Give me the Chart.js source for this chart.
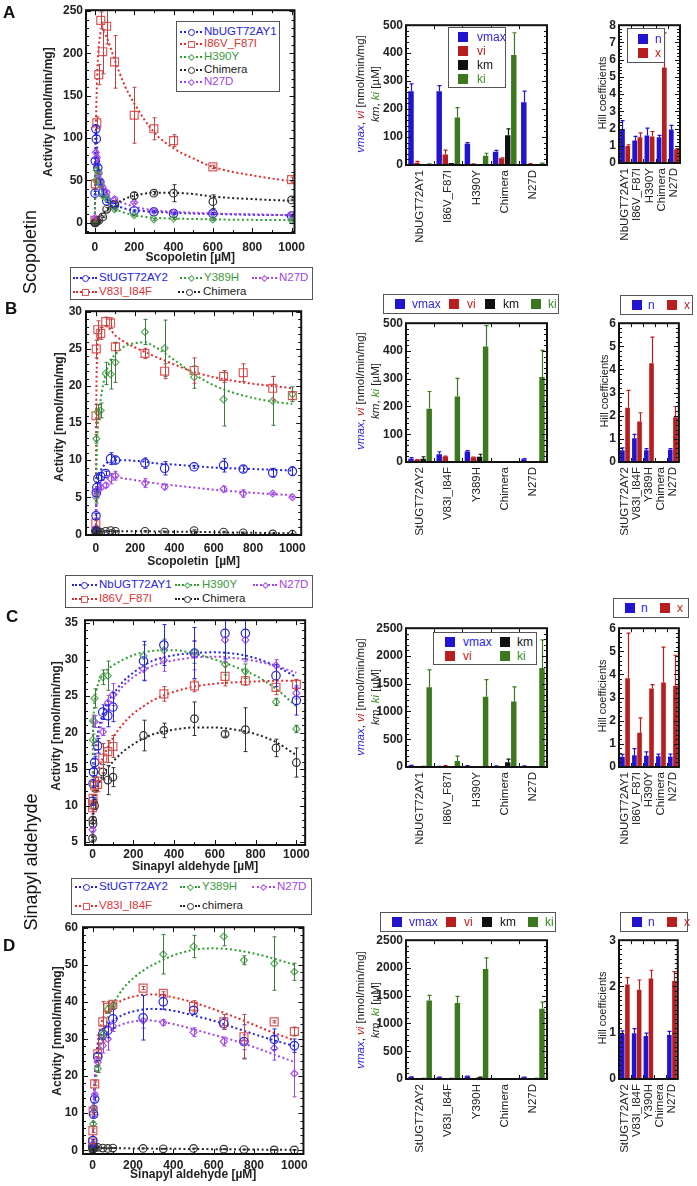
<!DOCTYPE html>
<html><head><meta charset="utf-8">
<script src="https://cdn.jsdelivr.net/npm/chart.js@4.4.1/dist/chart.umd.min.js"></script>
<style>
html,body{margin:0;padding:0;background:#fff;}
body{width:697px;height:1186px;position:relative;overflow:hidden;font-family:"Liberation Sans",Arial,sans-serif;}
canvas{position:absolute;}
.t{position:absolute;white-space:nowrap;}
.box{position:absolute;border:1px solid #555;background:#fff;box-sizing:border-box;}
</style></head><body>
<script>
// ===================== DATA =====================
// ---- Panel A : Scopoletin, NbUGT72AY1 family
const A_xTicks = [0, 200, 400, 600, 800, 1000];
const A_yTicks = [0, 50, 100, 150, 200, 250];
const A_NbUGT72AY1_x = [1, 2.5, 5, 7.5, 15, 25, 40, 60, 100, 200, 300, 400, 600, 1000];
const A_NbUGT72AY1_y = [35, 73, 111, 99, 65, 48, 36, 26, 21, 14, 13, 11, 11, 8];
const A_NbUGT72AY1_err = [2, 3, 4, 4, 3, 3, 3, 2, 2, 1, 1, 1, 1, 1];
const A_I86V_F87I_x = [0.5, 2.5, 10, 20, 30, 40, 60, 100, 200, 300, 400, 600, 1000];
const A_I86V_F87I_y = [3, 46, 118, 175, 239, 202, 232, 190, 127, 111, 97, 66, 51];
const A_I86V_F87I_err = [1, 5, 7, 12, 10, 26, 21, 31, 33, 13, 7, 2, 3];
const A_H390Y_x = [0.5, 5, 10, 20, 30, 40, 60, 100, 200, 300, 400, 600, 1000];
const A_H390Y_y = [1, 50, 62, 60, 45, 32, 28, 16, 9, 4, 5, 4, 3];
const A_H390Y_err = [0.5, 3, 3, 3, 3, 2, 2, 2, 1, 1, 1, 1, 1];
const A_Chimera_x = [0, 2.5, 5, 10, 20, 40, 60, 100, 200, 300, 400, 600, 1000];
const A_Chimera_y = [0, 0, 1, 2, 3, 7, 16, 22, 32, 35, 35, 25, 27];
const A_Chimera_err = [0.5, 0.5, 0.5, 0.5, 1, 1, 2, 3, 4, 2, 10, 8, 1];
const A_N27D_x = [1, 5, 10, 20, 30, 40, 60, 100, 200, 300, 400, 600, 1000];
const A_N27D_y = [6, 83, 77, 58, 48, 42, 36, 28, 24, 14, 12, 11, 9];
const A_N27D_err = [1, 3, 3, 3, 2, 2, 2, 2, 1, 1, 1, 1, 1];
const A_fit_x = [0, 2, 5, 10, 15, 20, 30, 40, 60, 100, 150, 200, 300, 400, 500, 600, 800, 1000];
const A_fit_NbUGT72AY1 = [0, 80, 110, 95, 75, 62, 48, 38, 30, 22, 17, 15, 13, 12, 11, 10.5, 9.5, 9];
const A_fit_I86V_F87I = [0, 45, 105, 161, 192, 208, 225, 226, 219, 193, 163, 141, 107, 88, 76, 66, 56, 49];
const A_fit_H390Y = [0, 35, 60, 65, 60, 52, 42, 34, 26, 17, 12, 9, 6, 5, 4.5, 4, 3.5, 3.3];
const A_fit_Chimera = [0, 0.3, 0.8, 2, 3.5, 5, 8, 10.5, 15, 22, 28, 32, 35.5, 35.5, 34, 31, 28, 26];
const A_fit_N27D = [0, 45, 78, 80, 70, 60, 49, 43, 35, 28, 23, 19, 15, 13, 12, 11, 10, 9];

// ---- shared substrate grid for B, C, D
const conc = [0, 1, 2.5, 5, 10, 25, 50, 75, 100, 250, 350, 500, 650, 750, 900, 1000];
const fitConc = [0, 1, 2.5, 5, 10, 25, 50, 75, 100, 150, 200, 250, 300, 400, 500, 600, 700, 800, 900, 1000];
const BCD_xTicks = [0, 200, 400, 600, 800, 1000];

// ---- Panel B : Scopoletin, StUGT72AY2 family
const B_yTicks = [0, 5, 10, 15, 20, 25, 30];
const B_StUGT72AY2 = [0.5, 2.5, 5.6, 6.3, 7.5, 7.8, 8.2, 10.2, 10.0, 9.6, 8.9, 9.1, 9.3, 8.8, 8.3, 8.5];
const B_StUGT72AY2_err = [0.2, 0.3, 0.5, 0.6, 0.5, 0.5, 0.3, 0.8, 0.4, 0.7, 0.9, 0.2, 0.9, 0.4, 0.6, 0.6];
const B_V83I_I84F = [1.5, 16.0, 25.0, null, 27.6, 27.1, 28.7, 28.5, 25.3, 24.4, 22.0, 22.1, 21.3, 21.8, 19.7, 18.7];
const B_V83I_I84F_err = [0.3, 1.5, 1.2, 0, 1.2, 0.8, 0.6, 0.7, 0.5, 0.7, 1.0, 1.7, 0.8, 1.2, 1.6, 0.5];
const B_Y389H = [null, 5.0, 12.9, null, 16.5, 16.7, 21.7, 21.6, 23.2, 27.3, 25.1, 21.2, 18.2, null, 18.0, 18.9];
const B_Y389H_err = [0, 0.8, 0.6, 0, 1.0, 1.0, 1.5, 2.0, 2.7, 1.7, 3.8, 1.5, 3.6, 0, 3.3, 1.0];
const B_N27D = [null, null, 5.3, 5.8, 6.0, 6.3, 6.6, 7.5, 7.9, 6.9, 6.4, null, 6.1, 5.5, 5.5, 5.0];
const B_N27D_err = [0, 0, 0.4, 0.4, 0.3, 0.3, 0.3, 0.7, 0.6, 0.6, 0.3, 0, 0.4, 0.5, 0.1, 0.1];
const B_Chimera = [0.3, 0.4, 0.4, 0.4, 0.4, 0.3, 0.4, 0.5, 0.4, 0.4, 0.3, 0.5, 0.3, 0.2, 0.05, 0.0];
const B_Chimera_err = [0.1, 0.1, 0.1, 0.1, 0.1, 0.1, 0.1, 0.1, 0.1, 0.1, 0.1, 0.1, 0.1, 0.1, 0.1, 0.1];
const B_fit_StUGT72AY2 = [0, 1.5, 3.5, 5.5, 7.2, 8.6, 9.5, 9.9, 10.0, 10.0, 9.9, 9.8, 9.6, 9.4, 9.2, 9.0, 8.9, 8.8, 8.7, 8.6];
const B_fit_V83I_I84F = [0, 10, 18, 23, 26.3, 27.8, 28.1, 27.6, 26.8, 25.9, 25.2, 24.6, 24.0, 22.9, 21.9, 21.2, 20.7, 20.3, 20.0, 19.7];
const B_fit_Y389H = [0, 3, 7, 11, 14.5, 18.3, 21.6, 23.4, 24.3, 25.4, 25.8, 25.9, 25.3, 23.5, 21.6, 20.1, 19.1, 18.4, 17.9, 17.6];
const B_fit_N27D = [0, 1.5, 3, 4.5, 5.8, 6.9, 7.5, 7.7, 7.7, 7.5, 7.3, 7.1, 6.9, 6.6, 6.3, 6.0, 5.8, 5.6, 5.4, 5.3];
const B_fit_Chimera = [0, 0.2, 0.3, 0.35, 0.4, 0.4, 0.4, 0.4, 0.4, 0.4, 0.4, 0.4, 0.38, 0.35, 0.32, 0.28, 0.24, 0.2, 0.16, 0.12];

// ---- Panel C : Sinapyl aldehyde, NbUGT72AY1 family
const C_yTicks = [5, 10, 15, 20, 25, 30, 35];
const C_NbUGT72AY1 = [null, 10.6, 13.0, 14.6, 15.9, 18.2, 22.8, 22.3, 23.5, 29.8, 32.0, 30.9, 33.6, 33.6, 27.8, 24.4];
const C_NbUGT72AY1_err = [0, 0.5, 0.5, 0.5, 0.8, 1.0, 1.0, 1.5, 2.0, 2.7, 2.8, 3.5, 3.5, 3.5, 1.5, 2.0];
const C_I86V_F87I = [9.7, 10.1, 11.0, null, 12.8, 12.9, 16.5, 17.4, 18.1, null, 25.3, 26.4, 27.7, 27.1, 26.2, 26.6];
const C_I86V_F87I_err = [0.5, 0.5, 0.5, 0, 1.0, 1.0, 2.0, 1.5, 1.5, 0, 1.0, 0.8, 1.3, 0.6, 1.0, 0.7];
const C_H390Y = [null, 19.0, 21.6, null, 24.7, null, 27.6, 27.8, null, 30.5, 31.3, 31.0, 29.4, 28.4, 24.2, 20.5];
const C_H390Y_err = [0, 0.8, 0.8, 0, 1.3, 0, 1.0, 2.0, 0, 1.5, 1.5, 1.5, 1.5, 1.0, 0.5, 0.5];
const C_N27D = [6.7, null, null, null, 21.5, null, 20.1, 24.1, 25.2, 28.7, 29.9, 30.6, 32.7, 32.7, 29.2, 25.4];
const C_N27D_err = [0.3, 0, 0, 0, 0.8, 0, 0.5, 1.0, 1.5, 1.5, 1.5, 2.0, 3.0, 3.0, 0.8, 0.8];
const C_Chimera = [5.5, 8.0, 7.5, null, 10.0, null, 14.6, 13.5, 13.9, 19.6, 20.3, 21.9, 19.8, 20.4, 17.9, 15.9];
const C_Chimera_err = [0.2, 0.5, 0.5, 0, 0.5, 0, 1.0, 2.0, 1.3, 2.1, 1.0, 2.3, 0.3, 3.0, 1.2, 2.0];
const C_fit_NbUGT72AY1 = [3, 8, 11.5, 14, 16.5, 19.8, 22.6, 24.2, 25.2, 27.0, 28.2, 29.2, 29.9, 30.6, 30.9, 31.0, 30.8, 30.2, 29.1, 27.6];
const C_fit_I86V_F87I = [5, 8, 9.8, 11.2, 12.6, 14.5, 16.5, 18, 19.3, 21.2, 22.6, 23.6, 24.5, 25.6, 26.3, 26.7, 26.9, 27.0, 27.1, 27.1];
const C_fit_H390Y = [10, 17, 20, 22.3, 24.3, 26.5, 27.9, 28.7, 29.2, 30.0, 30.6, 31.0, 31.2, 31.3, 30.8, 30.0, 29.0, 27.8, 26.0, 23.6];
const C_fit_N27D = [3, 7, 10.5, 13, 15.5, 18.8, 21.8, 23.4, 24.5, 26.4, 27.6, 28.5, 29.2, 29.9, 30.3, 30.4, 30.2, 29.8, 29.1, 28.2];
const C_fit_Chimera = [5, 6.5, 7.8, 9, 10.5, 12.4, 14.2, 15.2, 16, 17.4, 18.4, 19.2, 19.8, 20.4, 20.7, 20.7, 20.4, 19.8, 18.7, 16.9];

// ---- Panel D : Sinapyl aldehyde, StUGT72AY2 family
const D_yTicks = [0, 10, 20, 30, 40, 50, 60];
const D_StUGT72AY2 = [1.0, 2.6, null, 9.7, 13.8, 25.2, 31.3, 32.3, 35.4, 35.7, 40.0, 37.7, 34.1, 29.3, 29.9, 28.2];
const D_StUGT72AY2_err = [0.2, 0.3, 0, 0.5, 0.5, 1.0, 1.5, 2.0, 2.5, 6.0, 2.0, 1.0, 1.5, 4.5, 2.8, 1.8];
const D_V83I_I84F = [2.2, 5.3, 10.6, null, 17.9, 26.0, 34.6, 38.5, 39.3, 43.7, 42.3, 38.8, 34.6, 30.6, 34.6, 32.0];
const D_V83I_I84F_err = [0.3, 0.5, 0.5, 0, 0.5, 5.0, 5.5, 1.5, 0.5, 0.4, 0.4, 1.5, 2.0, 6.0, 0.3, 1.2];
const D_Y389H = [null, null, 7.1, 11.5, null, 22.0, 31.2, 38.0, 39.0, null, 52.8, 54.9, 57.6, 51.2, 50.3, 48.1];
const D_Y389H_err = [0, 0, 0.5, 0.5, 0, 1.0, 1.0, 1.0, 1.0, 0, 5.3, 3.0, 2.5, 1.2, 7.2, 2.3];
const D_N27D = [1.5, null, null, 11.5, 15.0, 23.8, 28.2, 30.0, 33.5, 34.9, 34.4, 31.8, 29.3, 29.1, 27.5, 20.7];
const D_N27D_err = [0.2, 0, 0, 0.5, 0.5, 1.0, 2.0, 3.0, 1.5, 2.0, 0.8, 1.2, 1.2, 2.0, 3.2, 6.3];
const D_chimera = [0.2, 0.4, 0.5, 0.8, 0.8, 0.8, 0.6, 0.5, 0.6, 0.5, 0.4, 0.5, 0.3, 0.2, 0.1, 0.1];
const D_chimera_err = [0.1, 0.1, 0.1, 0.1, 0.1, 0.1, 0.1, 0.1, 0.1, 0.1, 0.1, 0.1, 0.1, 0.1, 0.1, 0.1];
const D_fit_StUGT72AY2 = [0, 3, 7, 12, 18.5, 27.5, 32, 33.8, 34.9, 36.5, 37.4, 37.9, 38.1, 37.6, 36.3, 34.9, 33.1, 31.3, 29.6, 28.1];
const D_fit_V83I_I84F = [0, 3, 7, 12, 19, 29, 35.5, 37.5, 38.8, 40.5, 41.4, 41.9, 42, 41.2, 39.8, 38, 36, 33.8, 31.6, 29.6];
const D_fit_Y389H = [0, 2.5, 5.5, 9.5, 15, 23, 30.5, 35.5, 39, 43.5, 46.3, 48.4, 50, 52.5, 54, 54.4, 54, 53, 51.6, 50.0];
const D_fit_N27D = [0, 3, 7, 12, 18, 26, 30.2, 31.8, 32.7, 34, 34.7, 35, 34.9, 34, 32.6, 31.1, 29.6, 27.8, 25.8, 23.8];
const D_fit_chimera = [0, 0.2, 0.4, 0.5, 0.6, 0.6, 0.6, 0.6, 0.6, 0.55, 0.5, 0.5, 0.45, 0.4, 0.35, 0.3, 0.25, 0.2, 0.15, 0.1];

// ---- Kinetic parameter bars
const catsA = ['NbUGT72AY1', 'I86V_F87I', 'H390Y', 'Chimera', 'N27D'];
const catsB = ['StUGT72AY2', 'V83I_I84F', 'Y389H', 'Chimera', 'N27D'];
const catsC = ['NbUGT72AY1', 'I86V_F87I', 'H390Y', 'Chimera', 'N27D'];
const catsD = ['StUGT72AY2', 'V83I_I84F', 'Y390H', 'Chimera', 'N27D'];
const kinTicks500 = [0, 100, 200, 300, 400, 500];
const kinTicks2500 = [0, 500, 1000, 1500, 2000, 2500];
const hillTicks8 = [0, 1, 2, 3, 4, 5, 6, 7, 8];
const hillTicks6 = [0, 1, 2, 3, 4, 5, 6];
const hillTicks3 = [0, 1, 2, 3];

const A_vmax = [264, 264, 76, 47, 224];   const A_vmax_err = [26, 20, 4, 5, 40];
const A_vi = [8, 38, 3, 24, 4];           const A_vi_err = [5, 15, 1, 2, 1];
const A_km = [2, 7, 1, 106, 1];           const A_km_err = [0, 0, 0, 23, 0];
const A_ki = [3, 170, 33, 393, 5];        const A_ki_err = [1, 35, 9, 80, 2];
const A_n = [1.98, 1.31, 1.6, 1.49, 1.94];  const A_n_err = [0.48, 0.23, 0.42, 0.11, 0.25];
const A_x = [0.99, 1.5, 1.54, 5.54, 0.8];   const A_x_err = [0.07, 0.25, 0.29, 2.02, 0.04];

const B_vmax = [12, 28, 38, 0, 10];       const B_vmax_err = [4, 9, 3, 0, 2];
const B_vi = [8, 20, 17, 0, 4];           const B_vi_err = [1, 1, 1, 0, 0];
const B_km = [12, 0, 19, 0, 4];           const B_km_err = [7, 0, 9, 0, 0];
const B_ki = [192, 236, 416, 0, 306];     const B_ki_err = [62, 65, 75, 0, 96];
const B_n = [0.51, 1.03, 0.51, 0, 0.53];  const B_n_err = [0.1, 0.16, 0.07, 0, 0.05];
const B_x = [2.35, 1.75, 4.27, 0, 1.93];  const B_x_err = [0.75, 0.38, 1.13, 0, 0.47];

const C_vmax = [25, 8, 20, 18, 18];       const C_vmax_err = [5, 2, 3, 3, 3];
const C_vi = [6, 20, 5, 5, 4];            const C_vi_err = [2, 4, 1, 1, 1];
const C_km = [10, 2, 3, 85, 5];           const C_km_err = [2, 0, 0, 57, 1];
const C_ki = [1436, 108, 1264, 1180, 1785]; const C_ki_err = [314, 88, 310, 262, 503];
const C_n = [0.44, 0.51, 0.49, 0.47, 0.45]; const C_n_err = [0.11, 0.28, 0.16, 0.09, 0.11];
const C_x = [3.84, 1.48, 3.39, 3.65, 3.51]; const C_x_err = [1.95, 0.64, 0.17, 1.53, 1.32];

const D_vmax = [35, 30, 50, 0, 30];       const D_vmax_err = [3, 3, 4, 0, 3];
const D_vi = [5, 5, 5, 0, 5];             const D_vi_err = [0, 0, 0, 0, 0];
const D_km = [10, 8, 30, 0, 10];          const D_km_err = [2, 2, 4, 0, 2];
const D_ki = [1413, 1371, 1981, 0, 1264]; const D_ki_err = [94, 118, 200, 0, 119];
const D_n = [0.97, 0.99, 0.93, 0, 0.95];  const D_n_err = [0.07, 0.1, 0.06, 0, 0.08];
const D_x = [2.04, 1.93, 2.17, 0, 2.12];  const D_x_err = [0.15, 0.21, 0.18, 0, 0.2];

// ===================== STYLE =====================
const FONT = '"Liberation Sans", Arial, sans-serif';
Chart.defaults.font.family = FONT;
const COL = {
  blue:   {line: '#2525dc', mk: '#2525dc', err: '#2525dc', txt: '#2525dc', style: 'circle', r: 4.2},
  red:    {line: '#e02a2a', mk: '#e05858', err: '#b84444', txt: '#e03434', style: 'rect', r: 5.6},
  green:  {line: '#2f9e2f', mk: '#5aab5a', err: '#3e7a3e', txt: '#3a9a3a', style: 'rectRot', r: 3.5},
  purple: {line: '#a046e6', mk: '#a855e8', err: '#a046e6', txt: '#a046e6', style: 'rectRot', r: 3.5},
  black:  {line: '#222222', mk: '#333333', err: '#333333', txt: '#222222', style: 'circle', r: 3.8}
};
const BAR = {vmax: '#2114d0', vi: '#b81e1e', km: '#111111', ki: '#3c781e'};
const BARTXT = {vmax: '#2a1ee0', vi: '#c02020', km: '#111111', ki: '#3c8a1e'};

// ===================== PLUGINS =====================
const framePlugin = {
  id: 'frame',
  afterDraw(chart, args, o) {
    if (!o || !o.on) return;
    const {ctx, chartArea: a} = chart;
    const xs = chart.scales.x, ys = chart.scales.y;
    ctx.save();
    ctx.strokeStyle = '#111'; ctx.lineWidth = 1;
    ctx.beginPath();
    const k0 = Math.ceil(ys.min / o.yMinor - 1e-9), k1 = Math.floor(ys.max / o.yMinor + 1e-9);
    for (let k = k0; k <= k1; k++) {
      const v = k * o.yMinor;
      const major = Math.abs(v / o.yMajor - Math.round(v / o.yMajor)) < 1e-6;
      const len = major ? 5 : 3;
      const p = Math.round(ys.getPixelForValue(v)) + 0.5;
      ctx.moveTo(a.left, p); ctx.lineTo(a.left + len, p);
      ctx.moveTo(a.right, p); ctx.lineTo(a.right - len, p);
    }
    if (o.xMinor) {
      const j0 = Math.ceil(xs.min / o.xMinor - 1e-9), j1 = Math.floor(xs.max / o.xMinor + 1e-9);
      for (let j = j0; j <= j1; j++) {
        const v = j * o.xMinor;
        const major = Math.abs(v / o.xMajor - Math.round(v / o.xMajor)) < 1e-6;
        const len = major ? 5 : 3;
        const p = Math.round(xs.getPixelForValue(v)) + 0.5;
        ctx.moveTo(p, a.bottom); ctx.lineTo(p, a.bottom - len);
        ctx.moveTo(p, a.top); ctx.lineTo(p, a.top + len);
      }
    }
    if (o.cat) {
      const w = (a.right - a.left) / o.cat;
      for (let i = 1; i < o.cat; i++) {
        const p = Math.round(a.left + i * w) + 0.5;
        ctx.moveTo(p, a.bottom); ctx.lineTo(p, a.bottom - 4);
        ctx.moveTo(p, a.top); ctx.lineTo(p, a.top + 4);
      }
    }
    ctx.stroke();
    ctx.lineWidth = 2;
    ctx.strokeRect(a.left, a.top, a.right - a.left, a.bottom - a.top);
    ctx.restore();
  }
};
const errPlugin = {
  id: 'errbars',
  afterDatasetsDraw(chart) {
    const ctx = chart.ctx, a = chart.chartArea;
    ctx.save();
    ctx.beginPath(); ctx.rect(a.left, a.top - 1, a.right - a.left, a.bottom - a.top + 2); ctx.clip();
    chart.data.datasets.forEach((ds, di) => {
      if (!ds.errors) return;
      const meta = chart.getDatasetMeta(di);
      const ys = chart.scales[meta.yAxisID];
      ctx.strokeStyle = ds.errColor; ctx.lineWidth = ds.errWidth || 1;
      meta.data.forEach((el, i) => {
        const e = ds.errors[i];
        if (!e) return;
        const raw = ds.data[i];
        const v = (raw && typeof raw === 'object') ? raw.y : raw;
        if (v == null) return;
        const x = Math.round(el.x) + 0.5;
        const yt = ys.getPixelForValue(v + e);
        const yb = ds.upOnly ? ys.getPixelForValue(v) : ys.getPixelForValue(v - e);
        const cw = ds.capW || 2;
        ctx.beginPath();
        ctx.moveTo(x, yt); ctx.lineTo(x, yb);
        ctx.moveTo(x - cw, yt); ctx.lineTo(x + cw, yt);
        if (!ds.upOnly) { ctx.moveTo(x - cw, yb); ctx.lineTo(x + cw, yb); }
        ctx.stroke();
      });
    });
    ctx.restore();
  }
};
Chart.register(framePlugin, errPlugin);

// ===================== HELPERS =====================
function mkCanvas(p) {
  const cv = document.createElement('canvas');
  cv.width = p.cw; cv.height = p.ch;
  cv.style.left = p.cx + 'px'; cv.style.top = p.cy + 'px';
  cv.style.width = p.cw + 'px'; cv.style.height = p.ch + 'px';
  document.body.appendChild(cv);
  return cv;
}
function txt(x, y, html, o) {
  o = o || {};
  const size = o.size || 11;
  const d = document.createElement('div');
  d.className = 't';
  d.innerHTML = html;
  d.style.font = (o.style || 'normal') + ' ' + (o.weight || 'normal') + ' ' + size + 'px ' + FONT;
  d.style.lineHeight = size + 'px';
  d.style.color = o.color || '#222';
  d.style.left = x + 'px';
  d.style.top = (y - size / 2) + 'px';
  document.body.appendChild(d);
  return d;
}
function rotText(cx, cy, html, o) {
  o = o || {};
  const size = o.size || 11;
  const w = o.w || 200, h = o.h || size + 4;
  const d = document.createElement('div');
  d.className = 't';
  d.innerHTML = html;
  d.style.font = (o.weight || 'normal') + ' ' + size + 'px ' + FONT;
  d.style.lineHeight = (o.lh || size + 2) + 'px';
  d.style.color = o.color || '#222';
  d.style.width = w + 'px'; d.style.height = h + 'px';
  d.style.textAlign = 'center';
  d.style.left = (cx - w / 2) + 'px';
  d.style.top = (cy - h / 2) + 'px';
  d.style.transform = 'rotate(-90deg)';
  d.style.display = 'flex'; d.style.flexDirection = 'column'; d.style.justifyContent = 'center';
  document.body.appendChild(d);
}
function box(x1, y1, x2, y2) {
  const d = document.createElement('div');
  d.className = 'box';
  d.style.left = x1 + 'px'; d.style.top = y1 + 'px';
  d.style.width = (x2 - x1) + 'px'; d.style.height = (y2 - y1) + 'px';
  document.body.appendChild(d);
}
function sq(x, y, color, s) {
  s = s || 10;
  const d = document.createElement('div');
  d.style.cssText = 'position:absolute;left:' + x + 'px;top:' + (y - s / 2) + 'px;width:' + s + 'px;height:' + s + 'px;background:' + color + ';';
  document.body.appendChild(d);
}
function lsample(x1, x2, y, c) {
  const d = document.createElement('div');
  d.style.cssText = 'position:absolute;left:' + x1 + 'px;top:' + (y - 1) + 'px;width:' + (x2 - x1) + 'px;height:0;border-top:2px dotted ' + c.line + ';';
  document.body.appendChild(d);
  const m = document.createElement('div');
  const s = c.style === 'rectRot' ? 5 : 7;
  let css = 'position:absolute;box-sizing:border-box;left:' + ((x1 + x2) / 2 - s / 2) + 'px;top:' + (y - s / 2) + 'px;width:' + s + 'px;height:' + s + 'px;border:1.2px solid ' + c.mk + ';background:#fff;';
  if (c.style === 'circle') css += 'border-radius:50%;';
  if (c.style === 'rectRot') css += 'transform:rotate(45deg);';
  m.style.cssText = css;
  document.body.appendChild(m);
}
function legendItem(x1, x2, tx, y, c, label) {
  lsample(x1, x2, y, c);
  txt(tx, y, label, {size: 11.5, color: c.txt});
}
const plainNum = v => String(v);

function lineChart(p, spec) {
  const cv = mkCanvas(p);
  const datasets = [];
  spec.series.forEach(s => {
    datasets.push({
      data: spec.fitX.map((x, i) => ({x: x, y: s.fit[i]})),
      showLine: true, borderColor: s.c.line, borderWidth: 2, borderDash: [2, 2.6],
      pointRadius: 0, fill: false, cubicInterpolationMode: 'monotone', order: 2
    });
  });
  spec.series.forEach(s => {
    const pts = [], errs = [];
    s.x.forEach((x, i) => { if (s.y[i] != null) { pts.push({x: x, y: s.y[i]}); errs.push(s.err ? s.err[i] : 0); } });
    datasets.push({
      data: pts, errors: errs, errColor: s.c.err, capW: 2,
      showLine: false, pointStyle: s.c.style, pointRadius: s.c.r, borderColor: s.c.mk,
      backgroundColor: 'rgba(255,255,255,0)', borderWidth: 1.2, order: 1
    });
  });
  const tickFont = {size: 12, weight: 'bold', family: FONT};
  new Chart(cv, {
    type: 'scatter',
    data: {datasets: datasets},
    options: {
      responsive: false, animation: false, events: [], devicePixelRatio: 1,
      layout: {padding: {left: 0, top: p.T - p.cy, right: p.cx + p.cw - p.R, bottom: 0}},
      plugins: {legend: {display: false}, tooltip: {enabled: false},
        frame: {on: true, yMajor: spec.yMajor, yMinor: spec.yMinor, xMajor: 200, xMinor: spec.xMinor}},
      scales: {
        x: {type: 'linear', min: spec.xMin, max: spec.xMax,
          afterBuildTicks: sc => { sc.ticks = spec.xTicks.map(v => ({value: v})); },
          afterFit: sc => { sc.height = p.cy + p.ch - p.B; },
          grid: {display: false, drawTicks: false}, border: {display: false},
          ticks: {font: tickFont, color: '#222', padding: spec.xPad, maxRotation: 0, autoSkip: false, callback: plainNum},
          title: {display: true, text: spec.xTitle, font: {size: 12, weight: 'bold', family: FONT}, color: '#222', padding: {top: 0, bottom: spec.xTitlePad}}},
        y: {type: 'linear', min: spec.yMin, max: spec.yMax,
          afterBuildTicks: sc => { sc.ticks = spec.yTicks.map(v => ({value: v})); },
          afterFit: sc => { sc.width = p.L - p.cx; },
          grid: {display: false, drawTicks: false}, border: {display: false},
          ticks: {font: tickFont, color: '#222', padding: spec.yPad, autoSkip: false, callback: plainNum}}
      }
    }
  });
  rotText(spec.yTitleX, spec.yTitleY, 'Activity [nmol/min/mg]', {size: 12, weight: 'bold', w: 170, h: 16});
}

function barChart(p, spec) {
  const cv = mkCanvas(p);
  const datasets = spec.sets.map(s => ({
    data: s.data, errors: s.err, errColor: s.color, upOnly: true, capW: 2, errWidth: 1.2,
    backgroundColor: s.color, borderWidth: 0,
    categoryPercentage: spec.cp, barPercentage: spec.bp
  }));
  new Chart(cv, {
    type: 'bar',
    data: {labels: spec.labels, datasets: datasets},
    options: {
      responsive: false, animation: false, events: [], devicePixelRatio: 1,
      layout: {padding: {left: 0, top: p.T - p.cy, right: p.cx + p.cw - p.R, bottom: 0}},
      plugins: {legend: {display: false}, tooltip: {enabled: false},
        frame: {on: true, yMajor: spec.yMajor, yMinor: spec.yMinor, cat: spec.labels.length}},
      scales: {
        x: {type: 'category', grid: {display: false, drawTicks: false}, border: {display: false},
          afterFit: sc => { sc.height = p.cy + p.ch - p.B; },
          ticks: {autoSkip: false, minRotation: 90, maxRotation: 90, font: {size: 11.5, family: FONT}, color: '#222', padding: 5}},
        y: {type: 'linear', min: spec.yMin, max: spec.yMax,
          afterBuildTicks: sc => { sc.ticks = spec.yTicks.map(v => ({value: v})); },
          afterFit: sc => { sc.width = p.L - p.cx; },
          grid: {display: false, drawTicks: false}, border: {display: false},
          ticks: {font: {size: 12, weight: 'bold', family: FONT}, color: '#222', padding: 3, autoSkip: false, callback: plainNum}}
      }
    }
  });
}

// ===================== LINE CHARTS =====================
lineChart({cx: 0, cy: 0, cw: 312, ch: 265, L: 86, T: 5, R: 309, B: 233}, {
  xMin: -45, xMax: 1015, yMin: -12, yMax: 251, xTicks: A_xTicks, yTicks: A_yTicks,
  yMajor: 50, yMinor: 10, xMinor: 100, xPad: 7, yPad: 3, yTitleX: 48, yTitleY: 112, xTitlePad: 0,
  xTitle: 'Scopoletin [µM]', fitX: A_fit_x,
  series: [
    {c: COL.black, x: A_Chimera_x, y: A_Chimera_y, err: A_Chimera_err, fit: A_fit_Chimera},
    {c: COL.green, x: A_H390Y_x, y: A_H390Y_y, err: A_H390Y_err, fit: A_fit_H390Y},
    {c: COL.purple, x: A_N27D_x, y: A_N27D_y, err: A_N27D_err, fit: A_fit_N27D},
    {c: COL.blue, x: A_NbUGT72AY1_x, y: A_NbUGT72AY1_y, err: A_NbUGT72AY1_err, fit: A_fit_NbUGT72AY1},
    {c: COL.red, x: A_I86V_F87I_x, y: A_I86V_F87I_y, err: A_I86V_F87I_err, fit: A_fit_I86V_F87I}
  ]
});
lineChart({cx: 0, cy: 300, cw: 312, ch: 270, L: 86, T: 307, R: 308, B: 535}, {
  xMin: -50, xMax: 1045, yMin: -0.1, yMax: 30.1, xTicks: BCD_xTicks, yTicks: B_yTicks,
  yMajor: 5, yMinor: 1, xMinor: 100, xPad: 6, yPad: 4, yTitleX: 59, yTitleY: 417, xTitlePad: 1,
  xTitle: 'Scopoletin  [µM]', fitX: fitConc,
  series: [
    {c: COL.black, x: conc, y: B_Chimera, err: B_Chimera_err, fit: B_fit_Chimera},
    {c: COL.purple, x: conc, y: B_N27D, err: B_N27D_err, fit: B_fit_N27D},
    {c: COL.blue, x: conc, y: B_StUGT72AY2, err: B_StUGT72AY2_err, fit: B_fit_StUGT72AY2},
    {c: COL.green, x: conc, y: B_Y389H, err: B_Y389H_err, fit: B_fit_Y389H},
    {c: COL.red, x: conc, y: B_V83I_I84F, err: B_V83I_I84F_err, fit: B_fit_V83I_I84F}
  ]
});
lineChart({cx: 0, cy: 606, cw: 312, ch: 268, L: 85, T: 613, R: 307, B: 845}, {
  xMin: -37, xMax: 1043, yMin: 4.6, yMax: 35.4, xTicks: BCD_xTicks, yTicks: C_yTicks,
  yMajor: 5, yMinor: 1, xMinor: 100, xPad: 2, yPad: 7, yTitleX: 56, yTitleY: 726, xTitlePad: 0,
  xTitle: 'Sinapyl aldehyde [µM]', fitX: fitConc,
  series: [
    {c: COL.black, x: conc, y: C_Chimera, err: C_Chimera_err, fit: C_fit_Chimera},
    {c: COL.red, x: conc, y: C_I86V_F87I, err: C_I86V_F87I_err, fit: C_fit_I86V_F87I},
    {c: COL.green, x: conc, y: C_H390Y, err: C_H390Y_err, fit: C_fit_H390Y},
    {c: COL.purple, x: conc, y: C_N27D, err: C_N27D_err, fit: C_fit_N27D},
    {c: COL.blue, x: conc, y: C_NbUGT72AY1, err: C_NbUGT72AY1_err, fit: C_fit_NbUGT72AY1}
  ]
});
lineChart({cx: 0, cy: 915, cw: 312, ch: 268, L: 83, T: 922, R: 309, B: 1154}, {
  xMin: -48, xMax: 1045, yMin: -1, yMax: 60.1, xTicks: BCD_xTicks, yTicks: D_yTicks,
  yMajor: 10, yMinor: 2, xMinor: 100, xPad: 4, yPad: 5, yTitleX: 57, yTitleY: 1031, xTitlePad: 1,
  xTitle: 'Sinapyl aldehyde [µM]', fitX: fitConc,
  series: [
    {c: COL.black, x: conc, y: D_chimera, err: D_chimera_err, fit: D_fit_chimera},
    {c: COL.purple, x: conc, y: D_N27D, err: D_N27D_err, fit: D_fit_N27D},
    {c: COL.blue, x: conc, y: D_StUGT72AY2, err: D_StUGT72AY2_err, fit: D_fit_StUGT72AY2},
    {c: COL.red, x: conc, y: D_V83I_I84F, err: D_V83I_I84F_err, fit: D_fit_V83I_I84F},
    {c: COL.green, x: conc, y: D_Y389H, err: D_Y389H_err, fit: D_fit_Y389H}
  ]
});

// ===================== BAR CHARTS =====================
function kinSets(vmax, vmaxE, vi, viE, km, kmE, ki, kiE) {
  return [
    {data: vmax, err: vmaxE, color: BAR.vmax},
    {data: vi, err: viE, color: BAR.vi},
    {data: km, err: kmE, color: BAR.km},
    {data: ki, err: kiE, color: BAR.ki}
  ];
}
function hillSets(n, nE, x, xE) {
  return [{data: n, err: nE, color: BAR.vmax}, {data: x, err: xE, color: BAR.vi}];
}
barChart({cx: 372, cy: 15, cw: 180, ch: 235, L: 406, T: 23, R: 549, B: 165},
  {labels: catsA, sets: kinSets(A_vmax, A_vmax_err, A_vi, A_vi_err, A_km, A_km_err, A_ki, A_ki_err),
   yMin: 0, yMax: 500, yTicks: kinTicks500, yMajor: 100, yMinor: 20, cp: 0.86, bp: 0.9});
barChart({cx: 605, cy: 15, cw: 88, ch: 235, L: 619, T: 23, R: 690, B: 163},
  {labels: catsA, sets: hillSets(A_n, A_n_err, A_x, A_x_err),
   yMin: 0, yMax: 8, yTicks: hillTicks8, yMajor: 1, yMinor: 0.2, cp: 0.86, bp: 0.9});
barChart({cx: 372, cy: 313, cw: 180, ch: 235, L: 406, T: 321, R: 549, B: 462},
  {labels: catsB, sets: kinSets(B_vmax, B_vmax_err, B_vi, B_vi_err, B_km, B_km_err, B_ki, B_ki_err),
   yMin: 0, yMax: 500, yTicks: kinTicks500, yMajor: 100, yMinor: 20, cp: 0.86, bp: 0.9});
barChart({cx: 605, cy: 313, cw: 87, ch: 235, L: 619, T: 321, R: 689, B: 462},
  {labels: catsB, sets: hillSets(B_n, B_n_err, B_x, B_x_err),
   yMin: 0, yMax: 6, yTicks: hillTicks6, yMajor: 1, yMinor: 0.2, cp: 0.86, bp: 0.9});
barChart({cx: 372, cy: 618, cw: 180, ch: 235, L: 406, T: 626, R: 549, B: 767},
  {labels: catsC, sets: kinSets(C_vmax, C_vmax_err, C_vi, C_vi_err, C_km, C_km_err, C_ki, C_ki_err),
   yMin: 0, yMax: 2500, yTicks: kinTicks2500, yMajor: 500, yMinor: 100, cp: 0.86, bp: 0.9});
barChart({cx: 605, cy: 618, cw: 87, ch: 235, L: 619, T: 625, R: 689, B: 767},
  {labels: catsC, sets: hillSets(C_n, C_n_err, C_x, C_x_err),
   yMin: 0, yMax: 6, yTicks: hillTicks6, yMajor: 1, yMinor: 0.2, cp: 0.86, bp: 0.9});
barChart({cx: 372, cy: 930, cw: 180, ch: 235, L: 406, T: 938, R: 549, B: 1079},
  {labels: catsD, sets: kinSets(D_vmax, D_vmax_err, D_vi, D_vi_err, D_km, D_km_err, D_ki, D_ki_err),
   yMin: 0, yMax: 2500, yTicks: kinTicks2500, yMajor: 500, yMinor: 100, cp: 0.86, bp: 0.9});
barChart({cx: 605, cy: 930, cw: 86, ch: 235, L: 619, T: 937, R: 688, B: 1079},
  {labels: catsD, sets: hillSets(D_n, D_n_err, D_x, D_x_err),
   yMin: 0, yMax: 3, yTicks: hillTicks3, yMajor: 1, yMinor: 0.1, cp: 0.86, bp: 0.9});

// ===================== TEXT / LEGENDS =====================
const kinTitle = '<div><i style="color:#2a1ee0">vmax</i>, <i style="color:#c02020">vi</i> [nmol/min/mg]</div><div><i>km</i>, <i style="color:#3c8a1e">ki</i> [µM]</div>';
[94, 391, 697, 1010].forEach(cy => rotText(368, cy, kinTitle, {size: 11.5, w: 170, h: 32, lh: 15}));
[[602, 93], [604, 391], [602, 696], [602, 1008]].forEach(p => rotText(p[0], p[1], 'Hill coefficients', {size: 11, w: 120, h: 14}));

// Panel letters and substrate labels
txt(3, 12, 'A', {size: 17, weight: 'bold', color: '#111'});
txt(5, 308, 'B', {size: 17, weight: 'bold', color: '#111'});
txt(6, 616, 'C', {size: 17, weight: 'bold', color: '#111'});
txt(3, 945, 'D', {size: 17, weight: 'bold', color: '#111'});
rotText(30, 252, 'Scopoletin', {size: 18, w: 140, h: 22, color: '#111'});
rotText(31, 862, 'Sinapyl aldehyde', {size: 18, w: 180, h: 22, color: '#111'});

// Legend A (inside)
box(176, 21, 280, 92);
legendItem(180, 202, 204, 32, COL.blue, 'NbUGT72AY1');
legendItem(180, 202, 204, 44, COL.red, 'I86V_F87I');
legendItem(180, 202, 204, 57, COL.green, 'H390Y');
legendItem(180, 202, 204, 70, COL.black, 'Chimera');
legendItem(180, 202, 204, 82, COL.purple, 'N27D');
// Legend B (above)
box(70, 267, 313, 300);
legendItem(73, 97, 99, 278, COL.blue, 'StUGT72AY2');
legendItem(180, 202, 204, 278, COL.green, 'Y389H');
legendItem(252, 277, 279, 278, COL.purple, 'N27D');
legendItem(73, 97, 99, 292, COL.red, 'V83I_I84F');
legendItem(178, 200, 203, 292, COL.black, 'Chimera');
// Legend C (above)
box(65, 575, 313, 608);
legendItem(72, 97, 99, 585, COL.blue, 'NbUGT72AY1');
legendItem(175, 199, 202, 585, COL.green, 'H390Y');
legendItem(253, 277, 279, 585, COL.purple, 'N27D');
legendItem(72, 97, 99, 599, COL.red, 'I86V_F87I');
legendItem(175, 199, 202, 599, COL.black, 'Chimera');
// Legend D (above)
box(71, 878, 312, 915);
legendItem(75, 97, 99, 887, COL.blue, 'StUGT72AY2');
legendItem(180, 200, 202, 887, COL.green, 'Y389H');
legendItem(252, 275, 277, 887, COL.purple, 'N27D');
legendItem(75, 97, 99, 906, COL.red, 'V83I_I84F');
legendItem(180, 200, 202, 906, COL.black, 'chimera');

// Bar legends
box(448, 27, 506, 88);
sq(458, 37, BAR.vmax); txt(477, 37, 'vmax', {size: 12, color: BARTXT.vmax});
sq(458, 51, BAR.vi); txt(477, 51, 'vi', {size: 12, color: BARTXT.vi});
sq(458, 65, BAR.km); txt(477, 65, 'km', {size: 12, color: BARTXT.km});
sq(458, 79, BAR.ki); txt(477, 79, 'ki', {size: 12, color: BARTXT.ki});
box(627, 28, 665, 63);
sq(638, 39, BAR.vmax); txt(655, 39, 'n', {size: 12, color: BARTXT.vmax});
sq(638, 53, BAR.vi); txt(655, 53, 'x', {size: 12, color: BARTXT.vi});

function kinLegendRow(x1, y1, x2, y2) {
  box(x1, y1, x2, y2);
  const y = (y1 + y2) / 2;
  sq(x1 + 12, y, BAR.vmax); txt(x1 + 29, y, 'vmax', {size: 12, color: BARTXT.vmax});
  sq(x1 + 66, y, BAR.vi); txt(x1 + 84, y, 'vi', {size: 12, color: BARTXT.vi});
  sq(x1 + 102, y, BAR.km); txt(x1 + 120, y, 'km', {size: 12, color: BARTXT.km});
  sq(x1 + 148, y, BAR.ki); txt(x1 + 165, y, 'ki', {size: 12, color: BARTXT.ki});
}
function hillLegendRow(x1, y1, x2, y2) {
  box(x1, y1, x2, y2);
  const y = (y1 + y2) / 2;
  sq(x1 + 12, y, BAR.vmax); txt(x1 + 28, y, 'n', {size: 12, color: BARTXT.vmax});
  sq(x1 + 47, y, BAR.vi); txt(x1 + 64, y, 'x', {size: 12, color: BARTXT.vi});
}
kinLegendRow(383, 294, 559, 314);
hillLegendRow(620, 295, 693, 315);
box(433, 632, 537, 665);
sq(445, 642, BAR.vmax); txt(463, 642, 'vmax', {size: 12, color: BARTXT.vmax});
sq(445, 656, BAR.vi); txt(463, 656, 'vi', {size: 12, color: BARTXT.vi});
sq(500, 642, BAR.km); txt(517, 642, 'km', {size: 12, color: BARTXT.km});
sq(500, 656, BAR.ki); txt(517, 656, 'ki', {size: 12, color: BARTXT.ki});
hillLegendRow(613, 598, 689, 618);
kinLegendRow(380, 912, 556, 932);
hillLegendRow(620, 912, 688, 932);
</script>
</body></html>
